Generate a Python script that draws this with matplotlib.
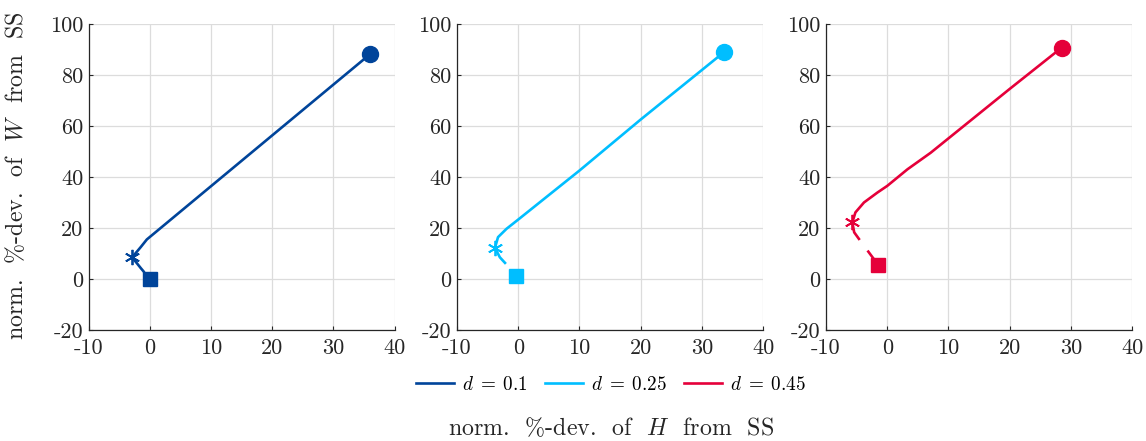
import numpy as np
import matplotlib.pyplot as plt

plt.rcParams['font.family'] = 'cmr10'
plt.rcParams['mathtext.fontset'] = 'cm'
plt.rcParams['axes.unicode_minus'] = False

labels = [r'$d\;=\;0.1$', r'$d\;=\;0.25$', r'$d\;=\;0.45$']
colors = ['#00449A', '#00BEFF', '#E5003A']

# dashed part: from the jump point (star) back to the steady state (square)
dash_H = [[-2.9, -1.5, 0.0], [-3.8, -3.0, -2.0, -0.3], [-5.7, -5.4, -4.5, -3.3, -1.5]]
dash_W = [[8.5, 4.3, 0.0], [12.2, 8.5, 5.9, 1.3], [22.2, 18.3, 15.3, 11.4, 5.6]]

# solid part: from the star out to the circle
path_H = [[-2.9, -1.5, -0.5, 36.0],
          [-3.8, -3.3, -1.9, 0.0, 10.0, 20.0, 33.6],
          [-5.7, -5.2, -3.8, -1.6, 0.0, 3.3, 7.1, 20.0, 28.5]]
path_W = [[8.5, 12.5, 15.5, 88.2],
          [12.2, 16.4, 19.7, 23.3, 42.5, 62.5, 88.9],
          [22.2, 26.1, 30.0, 33.9, 36.5, 43.0, 49.5, 74.5, 90.7]]

fig = plt.figure(figsize=(11.46, 4.41), dpi=100)
lefts = [0.0774, 0.3988, 0.7208]
handles = []
for i in range(3):
    ax = fig.add_axes([lefts[i], 0.2517, 0.267, 0.694])
    c = colors[i]
    ax.plot(dash_H[i], dash_W[i], color=c, lw=1.9, ls=(0, (7.4, 5)), zorder=3)
    h, = ax.plot(path_H[i], path_W[i], color=c, lw=1.9, zorder=3)
    handles.append(h)
    ax.plot(dash_H[i][-1], dash_W[i][-1], 's', color=c, ms=9.5, zorder=4)
    ax.plot(path_H[i][-1], path_W[i][-1], 'o', color=c, ms=11.5, zorder=4)
    ax.plot(path_H[i][0], path_W[i][0], marker=(6, 2, 0), color=c, ms=11,
            mew=1.3, ls='none', zorder=5)

    ax.set_xlim(-10, 40)
    ax.set_ylim(-20, 100)
    ax.set_xticks(np.arange(-10, 41, 10))
    ax.set_yticks(np.arange(-20, 101, 20))
    ax.grid(True, color='#dcdcdc', lw=0.9)
    ax.set_axisbelow(True)
    for s in ['top', 'right']:
        ax.spines[s].set_visible(False)
    for s in ['left', 'bottom']:
        ax.spines[s].set_color('#262626')
        ax.spines[s].set_linewidth(0.9)
    ax.tick_params(direction='in', length=3, width=0.8, colors='#262626',
                   labelsize=16, labelcolor='#262626')
    ax.tick_params(axis='x', pad=6)
    ax.tick_params(axis='y', pad=4)

fig.text(0.014, 0.601, 'norm.  %-dev.  of  $W$  from  SS', rotation=90,
         fontsize=17.2, color='#262626', ha='center', va='center')
fig.text(0.533, 0.0125, 'norm.  %-dev.  of  $H$  from  SS', fontsize=17.2,
         color='#262626', ha='center', va='baseline')

fig.legend(handles, labels, loc='center', bbox_to_anchor=(0.533, 0.127), ncol=3,
           frameon=False, fontsize=13.8, handlelength=2.0, handletextpad=0.4,
           columnspacing=0.9)

fig.savefig('out.png', dpi=100)
